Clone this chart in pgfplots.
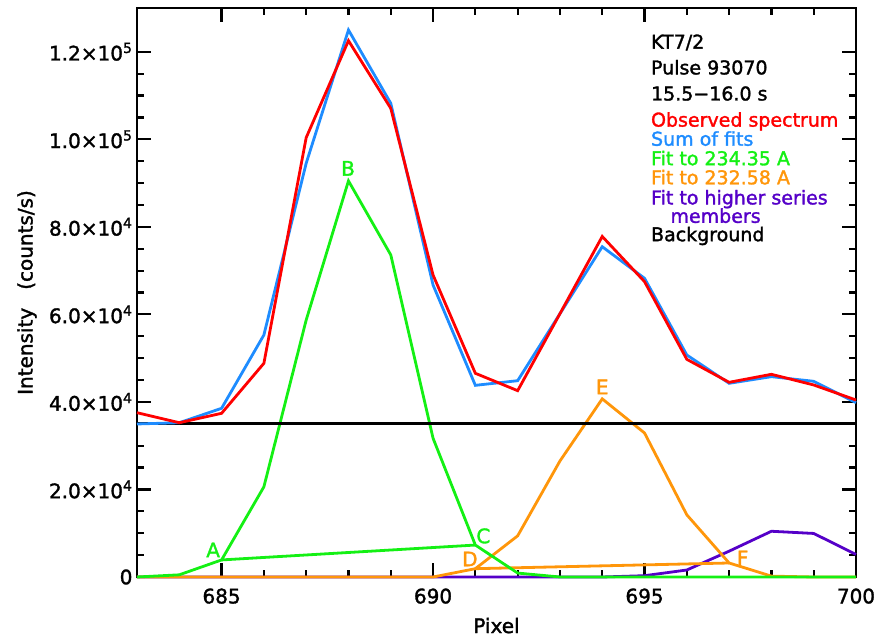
\documentclass[border=0pt]{standalone}
\usepackage{fontspec}
\setmainfont[FakeBold=1.6]{DejaVu Sans}
\usepackage{pgfplots}
\pgfplotsset{compat=1.18}
\definecolor{obsred}{RGB}{255,0,0}
\definecolor{sumblue}{RGB}{30,140,255}
\definecolor{fitgreen}{RGB}{20,240,20}
\definecolor{fitorange}{RGB}{255,150,10}
\definecolor{fitpurple}{RGB}{85,0,200}
\begin{document}
\begin{tikzpicture}[font=\fontsize{20}{24}\selectfont]
\begin{axis}[name=ax,
  scale only axis, width=719pt, height=569pt,
  xmin=683, xmax=700, ymin=0, ymax=130000,
  clip=false,
  xtick={685,690,695,700}, xticklabels={685,690,695,700},
  minor x tick num=4,
  ytick={0,20000,40000,60000,80000,100000,120000},
  yticklabels={0,2.0×10\textsuperscript{4},4.0×10\textsuperscript{4},6.0×10\textsuperscript{4},8.0×10\textsuperscript{4},1.0×10\textsuperscript{5},1.2×10\textsuperscript{5}},
  minor y tick num=3,
  tick align=inside, tick pos=both,
  major tick length=14pt, minor tick length=7pt,
  every tick/.style={black, line width=2.2pt},
  axis line style={line width=2.6pt},
  xticklabel style={yshift=-8pt},
  yticklabel style={xshift=-1pt},
  scaled y ticks=false,
]
% higher series members
\addplot[fitpurple, line width=2.8pt] coordinates {
(683,0)(684,0)(685,0)(686,0)(687,0)(688,0)(689,0)(690,0)(691,0)(692,0)(693,0)(694,0)
(695,300)(696,1600)(697,5900)(698,10450)(699,9950)(700,5150)};
% fit to 232.58
\addplot[fitorange, line width=2.8pt] coordinates {
(683,0)(684,0)(685,0)(686,0)(687,0)(688,0)(689,0)(690,0)(691,1900)(692,9400)(693,26500)(694,40700)(695,32900)(696,14200)(697,3200)(698,200)(699,0)(700,0)};
\addplot[fitorange, line width=2.8pt] coordinates {(691,1900)(697,3200)};
% fit to 234.35
\addplot[fitgreen, line width=2.8pt] coordinates {
(683,0)(684,500)(685,3900)(686,20600)(687,58700)(688,90500)(689,73600)(690,31700)(691,7300)(692,900)(693,0)(694,0)(695,0)(696,0)(697,0)(698,0)(699,0)(700,0)};
\addplot[fitgreen, line width=2.8pt] coordinates {(685,3900)(691,7300)};
% background
\addplot[black, line width=2.8pt] coordinates {(683,35000)(700,35000)};
% sum of fits
\addplot[sumblue, line width=2.8pt] coordinates {
(683,34960)(684,35250)(685,38540)(686,55290)(687,94520)(688,124970)(689,108230)(690,66710)(691,43790)(692,44850)(693,60150)(694,75460)(695,68240)(696,50720)(697,44250)(698,45770)(699,44710)(700,39830)};
% observed
\addplot[obsred, line width=2.8pt] coordinates {
(683,37540)(684,35250)(685,37400)(686,48820)(687,100370)(688,122530)(689,107080)(690,69000)(691,46540)(692,42570)(693,60160)(694,77800)(695,67480)(696,49730)(697,44480)(698,46310)(699,43870)(700,40440)};
% point labels
\node[fitgreen] at (axis cs:684.80,6180) {A};
\node[fitgreen] at (axis cs:687.99,93360) {B};
\node[fitgreen] at (axis cs:691.19,9380) {C};
\node[fitorange] at (axis cs:690.87,4120) {D};
\node[fitorange] at (axis cs:694.00,43430) {E};
\node[fitorange] at (axis cs:697.32,4350) {F};
% text block
\begin{scope}[every node/.style={anchor=base west, inner sep=0pt, font=\fontsize{19}{22}\selectfont}]
\node[black] at (axis cs:695.15,120720) {KT7/2};
\node[black] at (axis cs:695.15,114830) {Pulse 93070};
\node[black] at (axis cs:695.15,108870) {15.5−16.0 s};
\node[obsred] at (axis cs:695.15,102900) {Observed spectrum};
\node[sumblue] at (axis cs:695.15,98540) {Sum of fits};
\node[fitgreen] at (axis cs:695.15,94080) {Fit to 234.35 A};
\node[fitorange] at (axis cs:695.15,89720) {Fit to 232.58 A};
\node[fitpurple] at (axis cs:695.15,85130) {Fit to higher series};
\node[fitpurple] at (axis cs:695.61,80920) {members};
\node[black] at (axis cs:695.15,76720) {Background};
\end{scope}
% axis labels
\node[rotate=90, anchor=center] at (rel axis cs:-0.153,0.5) {Intensity\hspace{0.9em}(counts/s)};
\node[anchor=base, inner sep=0pt] at (rel axis cs:0.5,-0.0985) {Pixel};
\end{axis}
\pgfresetboundingbox
\useasboundingbox ([shift={(-137pt,-62pt)}]ax.south west) rectangle ([shift={(21pt,8pt)}]ax.north east);
\end{tikzpicture}
\end{document}
